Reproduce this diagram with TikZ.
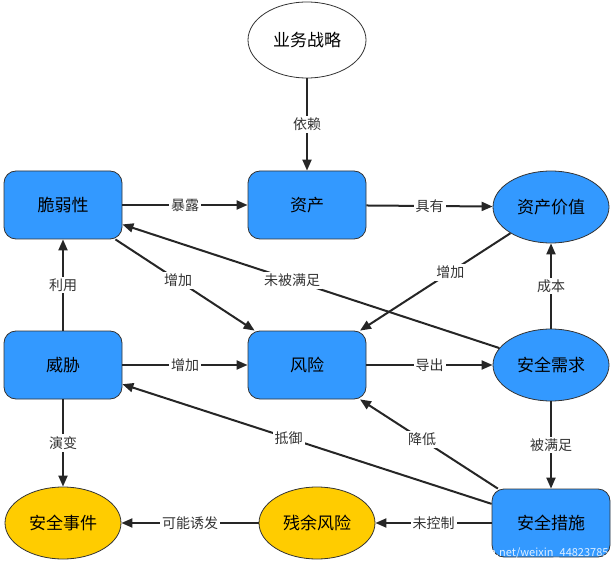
\documentclass[tikz,border=0pt]{standalone}
\usepackage{fontspec}
\setmainfont{Noto Sans CJK SC}
\usetikzlibrary{shapes.geometric,arrows.meta}
\begin{document}
\begin{tikzpicture}[x=1pt,y=-1pt,
  base/.style={draw=black!80,line width=0.8pt,font=\fontsize{17}{20}\selectfont,inner sep=0pt},
  bbox/.style={base,rounded corners=12pt,fill=blue1,minimum width=118pt,minimum height=68pt},
  bell/.style={base,ellipse,fill=blue1,minimum width=116pt,minimum height=72pt},
  yell/.style={base,ellipse,fill=yel,minimum width=116pt,minimum height=72pt},
  wel/.style={base,ellipse,fill=white,minimum width=118pt,minimum height=76pt},
  arr/.style={-{Triangle[length=11pt,width=9pt]},line width=2pt,black!85},
  lab/.style={fill=white,inner sep=2pt,font=\fontsize{14}{16}\selectfont,text=black!80}]
\definecolor{blue1}{HTML}{3399FF}
\definecolor{yel}{HTML}{FFCC00}
\useasboundingbox (0,0) rectangle (615,569);
\node[wel] (ywzl) at (307,40) {业务战略};
\node[bbox] (crx) at (63,205) {脆弱性};
\node[bbox] (zc) at (307,205) {资产};
\node[bell] (zcjz) at (551,207) {资产价值};
\node[bbox] (wx) at (63,365) {威胁};
\node[bbox] (fx) at (307,365) {风险};
\node[bell] (aqxq) at (551,365) {安全需求};
\node[yell] (aqsj) at (63,523) {安全事件};
\node[yell] (cyfx) at (317,523) {残余风险};
\node[bbox] (aqcs) at (551,523) {安全措施};
\draw[arr] (ywzl) -- node[lab]{依赖} (zc);
\draw[arr] (crx) -- node[lab]{暴露} (zc);
\draw[arr] (zc) -- node[lab]{具有} (zcjz);
\draw[arr] (wx) -- node[lab]{利用} (crx);
\draw[arr] (crx) -- node[lab,pos=0.45]{增加} (fx);
\draw[arr] (zcjz) -- node[lab,pos=0.4]{增加} (fx);
\draw[arr] (aqxq) -- node[lab,pos=0.55]{未被满足} (crx);
\draw[arr] (aqxq) -- node[lab]{成本} (zcjz);
\draw[arr] (wx) -- node[lab]{增加} (fx);
\draw[arr] (fx) -- node[lab]{导出} (aqxq);
\draw[arr] (aqxq) -- node[lab]{被满足} (aqcs);
\draw[arr] (wx) -- node[lab]{演变} (aqsj);
\draw[arr] (aqcs) -- node[lab,pos=0.55]{抵御} (wx);
\draw[arr] (aqcs) -- node[lab,pos=0.55]{降低} (fx);
\draw[arr] (aqcs) -- node[lab]{未控制} (cyfx);
\draw[arr] (cyfx) -- node[lab]{可能诱发} (aqsj);
\node[font=\fontsize{11}{13}\selectfont,text=white,opacity=0.85,anchor=east] (wm) at (612,553) {https://blog.csdn.net/weixin\_44823785};
\end{tikzpicture}
\end{document}
